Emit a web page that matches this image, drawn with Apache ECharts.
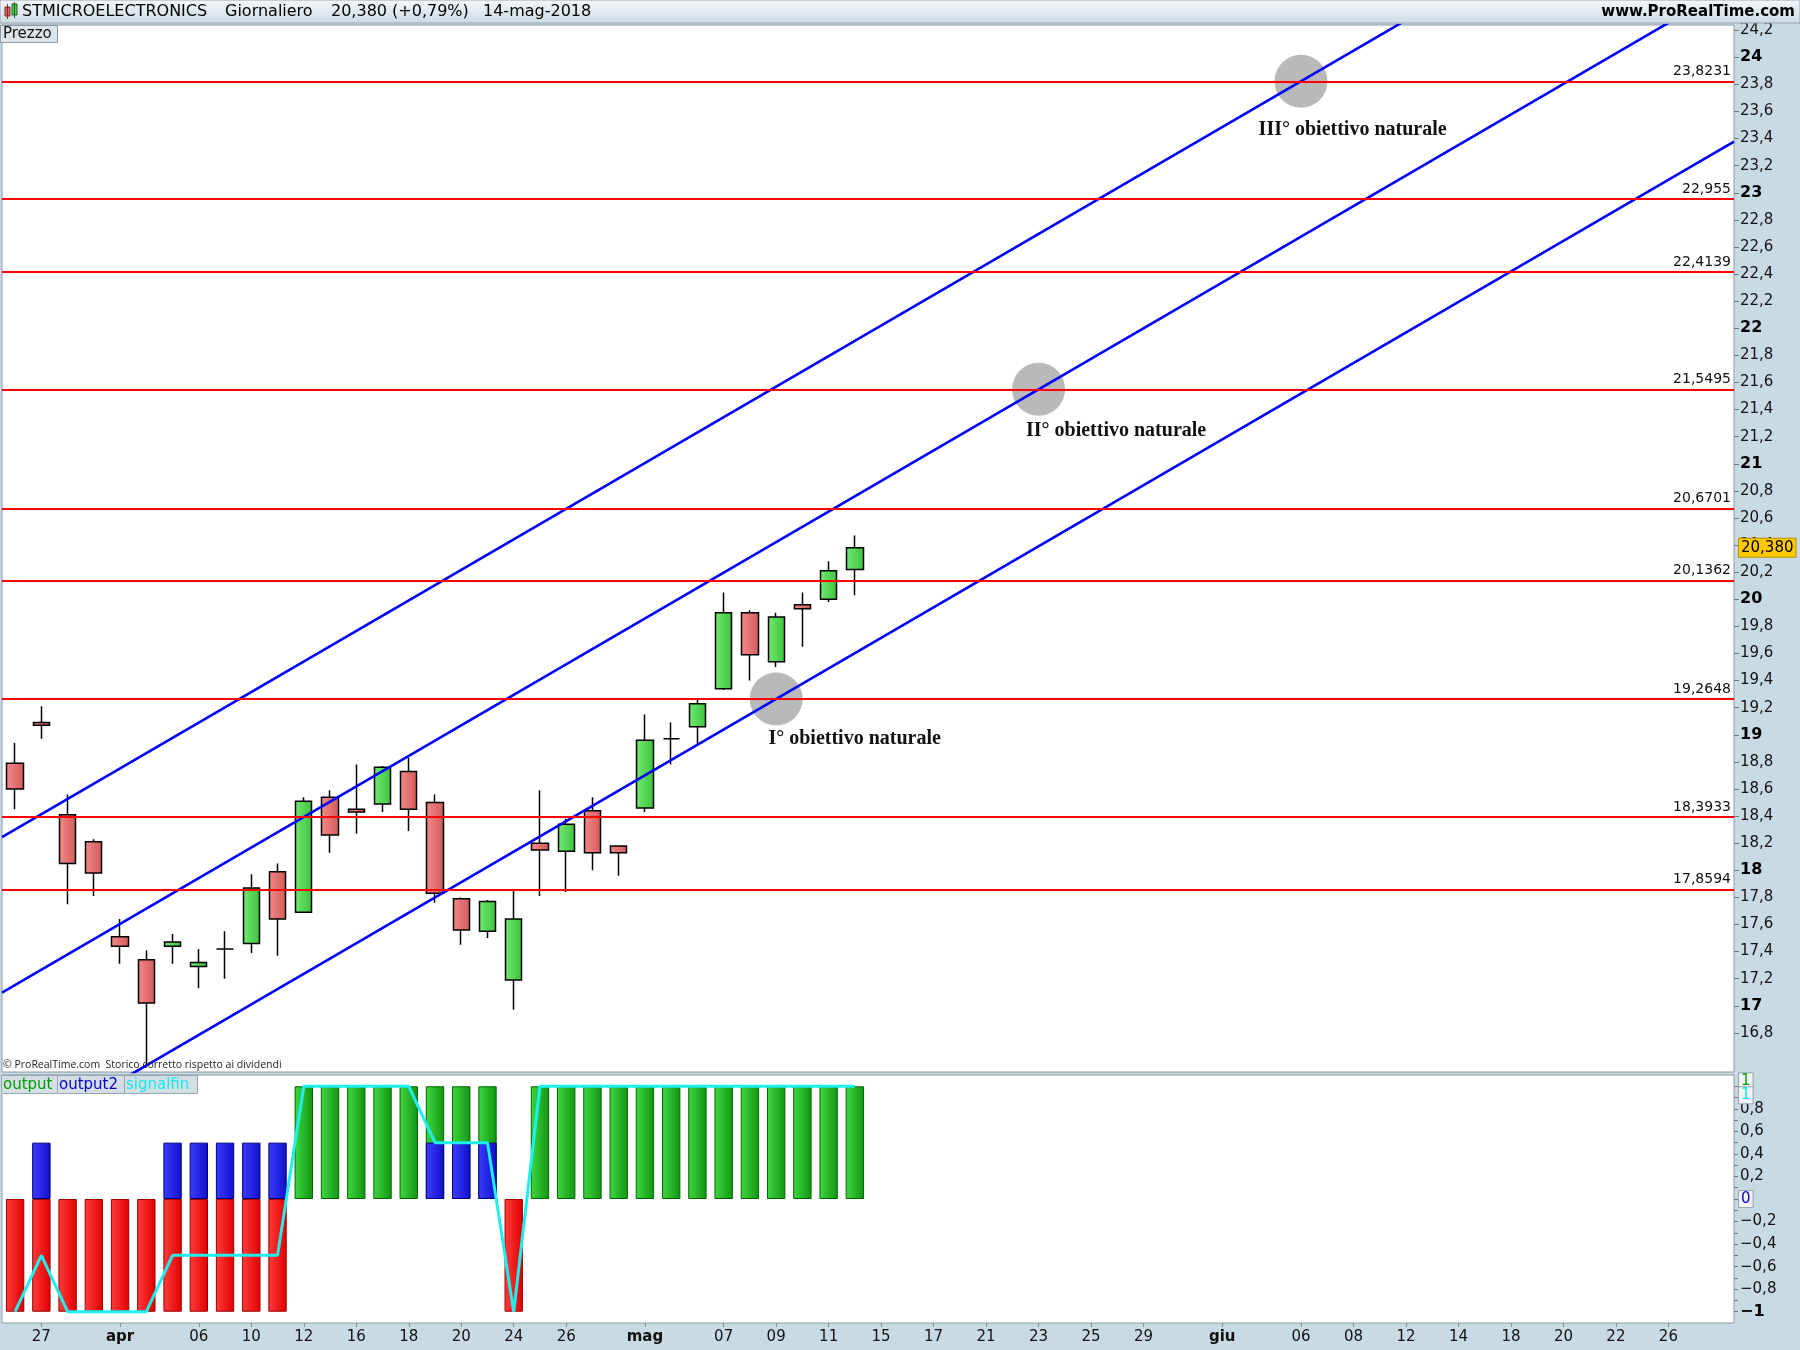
<!DOCTYPE html>
<html><head><meta charset="utf-8">
<script src="https://cdn.jsdelivr.net/npm/echarts@6.0.0/dist/echarts.min.js"></script>
<style>html,body{margin:0;padding:0;background:#fff}#c{width:1800px;height:1350px}</style>
</head><body><div id="c"></div>
<script>
// ---------- DATA ----------
const dates = ['2018-03-26','2018-03-27','2018-03-28','2018-03-29',
 '2018-04-03','2018-04-04','2018-04-05','2018-04-06','2018-04-09','2018-04-10','2018-04-11','2018-04-12','2018-04-13',
 '2018-04-16','2018-04-17','2018-04-18','2018-04-19','2018-04-20','2018-04-23','2018-04-24','2018-04-25','2018-04-26','2018-04-27','2018-04-30',
 '2018-05-02','2018-05-03','2018-05-04','2018-05-07','2018-05-08','2018-05-09','2018-05-10','2018-05-11',
 '2018-05-14','2018-05-15','2018-05-16','2018-05-17','2018-05-18','2018-05-21','2018-05-22','2018-05-23','2018-05-24','2018-05-25',
 '2018-05-28','2018-05-29','2018-05-30','2018-05-31','2018-06-01','2018-06-04','2018-06-05','2018-06-06','2018-06-07','2018-06-08',
 '2018-06-11','2018-06-12','2018-06-13','2018-06-14','2018-06-15','2018-06-18','2018-06-19','2018-06-20','2018-06-21','2018-06-22',
 '2018-06-25','2018-06-26','2018-06-27','2018-06-28'];
const xLabels = ['','27','','','apr','','','06','','10','','12','','16','','18','','20','','24','','26','','',
 'mag','','','07','','09','','11','','15','','17','','21','','23','','25','','29','','',
 'giu','','','06','','08','','12','','14','','18','','20','','22','','26','',''];
const monthLabels = ['apr','mag','giu'];

const open  = [18.79,19.09,18.41,18.21,17.51,17.34,17.44,17.29,17.42,17.46,17.99,17.69,18.54,18.45,18.49,18.73,18.50,17.79,17.55,17.19,18.20,18.14,18.44,18.18,18.46,18.97,19.06,19.34,19.90,19.54,19.96,20.00,20.22];
const high  = [18.94,19.21,18.56,18.23,17.64,17.41,17.53,17.42,17.55,17.97,18.05,18.54,18.59,18.78,18.77,18.83,18.56,17.80,17.78,17.85,18.59,18.38,18.54,18.18,19.15,19.09,19.27,20.05,19.92,19.90,20.05,20.28,20.47];
const low   = [18.45,18.97,17.75,17.81,17.31,16.56,17.31,17.13,17.20,17.39,17.37,17.69,18.13,18.27,18.43,18.29,17.76,17.45,17.50,16.97,17.81,17.84,18.00,17.96,18.43,18.78,18.93,19.33,19.40,19.50,19.65,19.98,20.03];
const close = [18.60,19.07,18.05,17.98,17.44,17.02,17.47,17.32,17.42,17.87,17.64,18.51,18.26,18.43,18.76,18.45,17.83,17.56,17.77,17.64,18.15,18.34,18.13,18.13,18.96,18.97,19.23,19.90,19.59,19.87,19.93,20.21,20.38];

const levels = [23.8231,22.955,22.4139,21.5495,20.6701,20.1362,19.2648,18.3933,17.8594];
const lastPrice = 20.38;

// channel lines: endpoints [bar index, price]
const channelUpper  = [[-0.5,18.244],[65.5,25.683]];
const channelMiddle = [[-0.5,17.098],[65.5,24.536]];
const channelLower  = [[-0.5,15.940],[65.5,23.378]];

const targets = [[29,19.2648],[39,21.5495],[49,23.8231]];
const targetNames = ['I° obiettivo naturale','II° obiettivo naturale','III° obiettivo naturale'];

const output    = [-1,-1,-1,-1,-1,-1,-1,-1,-1,-1,-1,1,1,1,1,1,1,1,1,-1,1,1,1,1,1,1,1,1,1,1,1,1,1];
const output2   = [0,0.5,0,0,0,0,0.5,0.5,0.5,0.5,0.5,0,0,0,0,0,0.5,0.5,0.5,0,0,0,0,0,0,0,0,0,0,0,0,0,0];
const signalfin = [-1,-0.5,-1,-1,-1,-1,-0.5,-0.5,-0.5,-0.5,-0.5,1,1,1,1,1,0.5,0.5,0.5,-1,1,1,1,1,1,1,1,1,1,1,1,1,1];

const priceTicks = [16.8,17,17.2,17.4,17.6,17.8,18,18.2,18.4,18.6,18.8,19,19.2,19.4,19.6,19.8,20,20.2,20.4,20.6,20.8,21,21.2,21.4,21.6,21.8,22,22.2,22.4,22.6,22.8,23,23.2,23.4,23.6,23.8,24,24.2];
const indTicks = [-1,-0.9,-0.8,-0.7,-0.6,-0.5,-0.4,-0.3,-0.2,-0.1,0,0.1,0.2,0.3,0.4,0.5,0.6,0.7,0.8,0.9,1];
const indLabels = [-1,-0.8,-0.6,-0.4,-0.2,0.2,0.4,0.6,0.8];

// ---------- STYLE / RENDER ----------
const FONT = 'DejaVu Sans';
const G = echarts.graphic.LinearGradient;
const grad = (a,b) => new G(0,0,1,0,[{offset:0,color:a},{offset:1,color:b}]);
const fmt = v => String(v).replace('.', ',').replace('-', '\u2212');
const isInt = v => Math.abs(v - Math.round(v)) < 1e-9;
const targetLabelPos = [[18.8,66.5],[13.9,67.8],[-15.9,75]];
const HIDDEN = {color:'rgba(0,0,0,0)', width:1, type:'solid'};

const greenBar = {color: grad('#3fd83f','#139413'), borderColor:'#006400', borderWidth:1};
const redBar   = {color: grad('#ff3c3c','#e00000'), borderColor:'#9a0000', borderWidth:1};
const blueBar  = {color: grad('#3c3cff','#1010c8'), borderColor:'#000080', borderWidth:1};

const chart = echarts.init(document.getElementById('c'));

const boxLabel = (txt, col, off) => ({show:true, position:'end', distance:5, formatter: txt, color: col,
  fontFamily: FONT, fontSize: 15, backgroundColor:'#f3f3f3', borderColor:'#9aa6ae', borderWidth:1,
  padding:[1,2,0,2], offset: off});

const option = {
  animation: false,
  backgroundColor: '#c8dae4',
  textStyle: {fontFamily: FONT},
  grid: [
    {left:2, right:66, top:25, height:1047, show:true, backgroundColor:'#fff', borderColor:'#8e9ca6', borderWidth:1},
    {left:2, right:66, top:1075, height:248, show:true, backgroundColor:'#fff', borderColor:'#8e9ca6', borderWidth:1}
  ],
  xAxis: [
    {type:'category', gridIndex:0, data:dates, boundaryGap:true, axisLine:{show:false, onZero:false}, axisTick:{show:false}, axisLabel:{show:false}, splitLine:{show:false}},
    {type:'category', gridIndex:1, data:dates, boundaryGap:true, position:'bottom', axisLine:{show:false, onZero:false},
     axisTick:{show:true, alignWithLabel:true, length:4, interval:(i)=>xLabels[i] !== '', lineStyle:{color:'#7d8b95'}},
     axisLabel:{interval:(i)=>xLabels[i] !== '', margin:7, color:'#111', fontSize:15, fontFamily:FONT,
       formatter:(v,i)=> monthLabels.indexOf(xLabels[i]) >= 0 ? '{m|' + xLabels[i] + '}' : xLabels[i],
       rich:{m:{fontWeight:'bold', fontSize:15, color:'#111', fontFamily:FONT}}},
     splitLine:{show:false}},
    {type:'value', gridIndex:0, min:-0.5, max:65.5, show:false, axisLine:{onZero:false}}
  ],
  yAxis: [
    {type:'value', gridIndex:0, position:'right', min:16.5114, max:24.2384, splitLine:{show:false}, axisLine:{show:false, onZero:false},
     axisTick:{show:true, customValues:priceTicks, length:5, lineStyle:{color:'#6c7a84'}},
     axisLabel:{customValues:priceTicks, margin:6, color:'#111',
       formatter: v => isInt(v) ? '{b|' + fmt(v) + '}' : '{n|' + fmt(v) + '}',
       rich:{b:{fontWeight:'bold', fontSize:16, color:'#000', fontFamily:FONT}, n:{fontSize:15, color:'#111', fontFamily:FONT}}}},
    {type:'value', gridIndex:1, position:'right', min:-1.1, max:1.1, splitLine:{show:false}, axisLine:{show:false, onZero:false},
     axisTick:{show:true, customValues:indTicks, length:4, lineStyle:{color:'#6c7a84'}},
     axisLabel:{customValues:indLabels, margin:6, color:'#111',
       formatter: v => isInt(v) ? '{b|' + fmt(v) + '}' : '{n|' + fmt(v) + '}',
       rich:{b:{fontWeight:'bold', fontSize:16, color:'#000', fontFamily:FONT}, n:{fontSize:15, color:'#111', fontFamily:FONT}}}}
  ],
  series: [
    {type:'scatter', xAxisIndex:2, yAxisIndex:0, z:1, silent:true, symbolSize:53,
     itemStyle:{color:'#b9b9b9', opacity:1},
     label:{show:true, align:'left', verticalAlign:'middle', fontFamily:'Liberation Serif', fontWeight:'bold', fontSize:20, color:'#111'},
     data: targets.map((t,k)=>({value:t, label:{formatter: targetNames[k], position: targetLabelPos[k]}}))},
    {type:'candlestick', xAxisIndex:0, yAxisIndex:0, z:2, barWidth:'64%', silent:true,
     data: open.map((o,i)=>[o, close[i], low[i], high[i]]),
     itemStyle:{color: grad('#72ea72','#3cc23c'), color0: grad('#f48a8a','#d25a5a'),
       borderColor:'#000', borderColor0:'#000', borderColorDoji:'#000', borderWidth:1.5},
     markLine:{silent:true, symbol:['none','none'], z:5, precision:4,
       lineStyle:{color:'#ff0000', width:2, type:'solid'},
       label:{position:'insideEndTop', formatter: p => fmt(p.value), color:'#111', fontSize:14, fontFamily:FONT, distance:3},
       data: levels.map(v=>({yAxis:v})).concat([{yAxis:lastPrice, lineStyle:HIDDEN,
         label:{show:true, position:'end', distance:5, formatter: lastPrice.toFixed(3).replace('.', ','), color:'#000', fontSize:15, fontFamily:FONT,
           backgroundColor:'#ffc905', borderColor:'#b88e00', borderWidth:1, padding:[2,2,1,2]}}])}},
    {type:'line', xAxisIndex:2, yAxisIndex:0, z:3, silent:true, symbol:'none', clip:true, data:channelUpper, lineStyle:{color:'#0000ff', width:2.6}},
    {type:'line', xAxisIndex:2, yAxisIndex:0, z:3, silent:true, symbol:'none', clip:true, data:channelMiddle, lineStyle:{color:'#0000ff', width:2.6}},
    {type:'line', xAxisIndex:2, yAxisIndex:0, z:3, silent:true, symbol:'none', clip:true, data:channelLower, lineStyle:{color:'#0000ff', width:2.6}},
    {type:'bar', name:'output', xAxisIndex:1, yAxisIndex:1, z:2, silent:true, barWidth:'70%', barGap:'-100%',
     data: output.map(v=>({value:v, itemStyle: v > 0 ? greenBar : redBar})),
     markLine:{silent:true, symbol:['none','none'], z:6, lineStyle:HIDDEN,
       data:[{yAxis:1, label: boxLabel('1', '#00a000', [0,-5])}]}},
    {type:'bar', name:'output2', xAxisIndex:1, yAxisIndex:1, z:3, silent:true, barWidth:'70%', barGap:'-100%',
     data: output2.map(v=>({value:v, itemStyle: v !== 0 ? blueBar : {opacity:0}})),
     markLine:{silent:true, symbol:['none','none'], z:6, lineStyle:HIDDEN,
       data:[{yAxis:0, label: boxLabel('0', '#0000d0', [0,0])}]}},
    {type:'line', name:'signalfin', xAxisIndex:1, yAxisIndex:1, z:4, silent:true, symbol:'none', data:signalfin,
     lineStyle:{color:'#1ef0f0', width:3},
     markLine:{silent:true, symbol:['none','none'], z:7, lineStyle:HIDDEN,
       data:[{yAxis:1, label: boxLabel('1', '#00e8e8', [0,9])}]}}
  ],
  graphic: [
    {type:'rect', z:100, shape:{x:0, y:0, width:1800, height:23},
     style:{fill:new G(0,0,0,1,[{offset:0,color:'#f3f7fa'},{offset:1,color:'#cddbe4'}]), stroke:'#98a6b0', lineWidth:1}},
    {type:'rect', z:101, shape:{x:5, y:7, width:5, height:9}, style:{fill:'#e86060', stroke:'#7a2a2a', lineWidth:1}},
    {type:'rect', z:101, shape:{x:7, y:4, width:1, height:15}, style:{fill:'#7a2a2a'}},
    {type:'rect', z:101, shape:{x:12, y:4, width:5, height:11}, style:{fill:'#48d048', stroke:'#206020', lineWidth:1}},
    {type:'rect', z:101, shape:{x:14, y:2, width:1, height:16}, style:{fill:'#206020'}},
    {type:'text', z:101, x:22, y:12, style:{text:'STMICROELECTRONICS', font:'16px "DejaVu Sans"', fill:'#000', textVerticalAlign:'middle'}},
    {type:'text', z:101, x:225, y:12, style:{text:'Giornaliero', font:'16px "DejaVu Sans"', fill:'#000', textVerticalAlign:'middle'}},
    {type:'text', z:101, x:331, y:12, style:{text:'20,380 (+0,79%)', font:'16px "DejaVu Sans"', fill:'#000', textVerticalAlign:'middle'}},
    {type:'text', z:101, x:483, y:12, style:{text:'14-mag-2018', font:'16px "DejaVu Sans"', fill:'#000', textVerticalAlign:'middle'}},
    {type:'text', z:101, x:1795, y:12, style:{text:'www.ProRealTime.com', font:'bold 15px "DejaVu Sans"', fill:'#000', textAlign:'right', textVerticalAlign:'middle'}},
    {type:'rect', z:101, shape:{x:0.5, y:25.5, width:57, height:17}, style:{fill:'#dce4ea', stroke:'#8c9aa4', lineWidth:1}},
    {type:'text', z:102, x:3, y:34, style:{text:'Prezzo', font:'15px "DejaVu Sans"', fill:'#111', textVerticalAlign:'middle'}},
    {type:'text', z:101, x:3, y:1065, style:{text:'\u00a9 ProRealTime.com  Storico corretto rispetto ai dividendi', font:'10.5px "Open Sans"', fill:'#222', textVerticalAlign:'middle'}},
    {type:'rect', z:101, shape:{x:1.5, y:1075.5, width:56, height:18}, style:{fill:'#d4dee5', stroke:'#97a6b0', lineWidth:1}},
    {type:'rect', z:101, shape:{x:57.5, y:1075.5, width:67, height:18}, style:{fill:'#d4dee5', stroke:'#97a6b0', lineWidth:1}},
    {type:'rect', z:101, shape:{x:124.5, y:1075.5, width:73, height:18}, style:{fill:'#d4dee5', stroke:'#97a6b0', lineWidth:1}},
    {type:'text', z:102, x:3, y:1085, style:{text:'output', font:'15px "DejaVu Sans"', fill:'#009a00', textVerticalAlign:'middle'}},
    {type:'text', z:102, x:59, y:1085, style:{text:'output2', font:'15px "DejaVu Sans"', fill:'#0000c8', textVerticalAlign:'middle'}},
    {type:'text', z:102, x:126, y:1085, style:{text:'signalfin', font:'15px "DejaVu Sans"', fill:'#14eaea', textVerticalAlign:'middle'}}
  ]
};
chart.setOption(option);
</script></body></html>
